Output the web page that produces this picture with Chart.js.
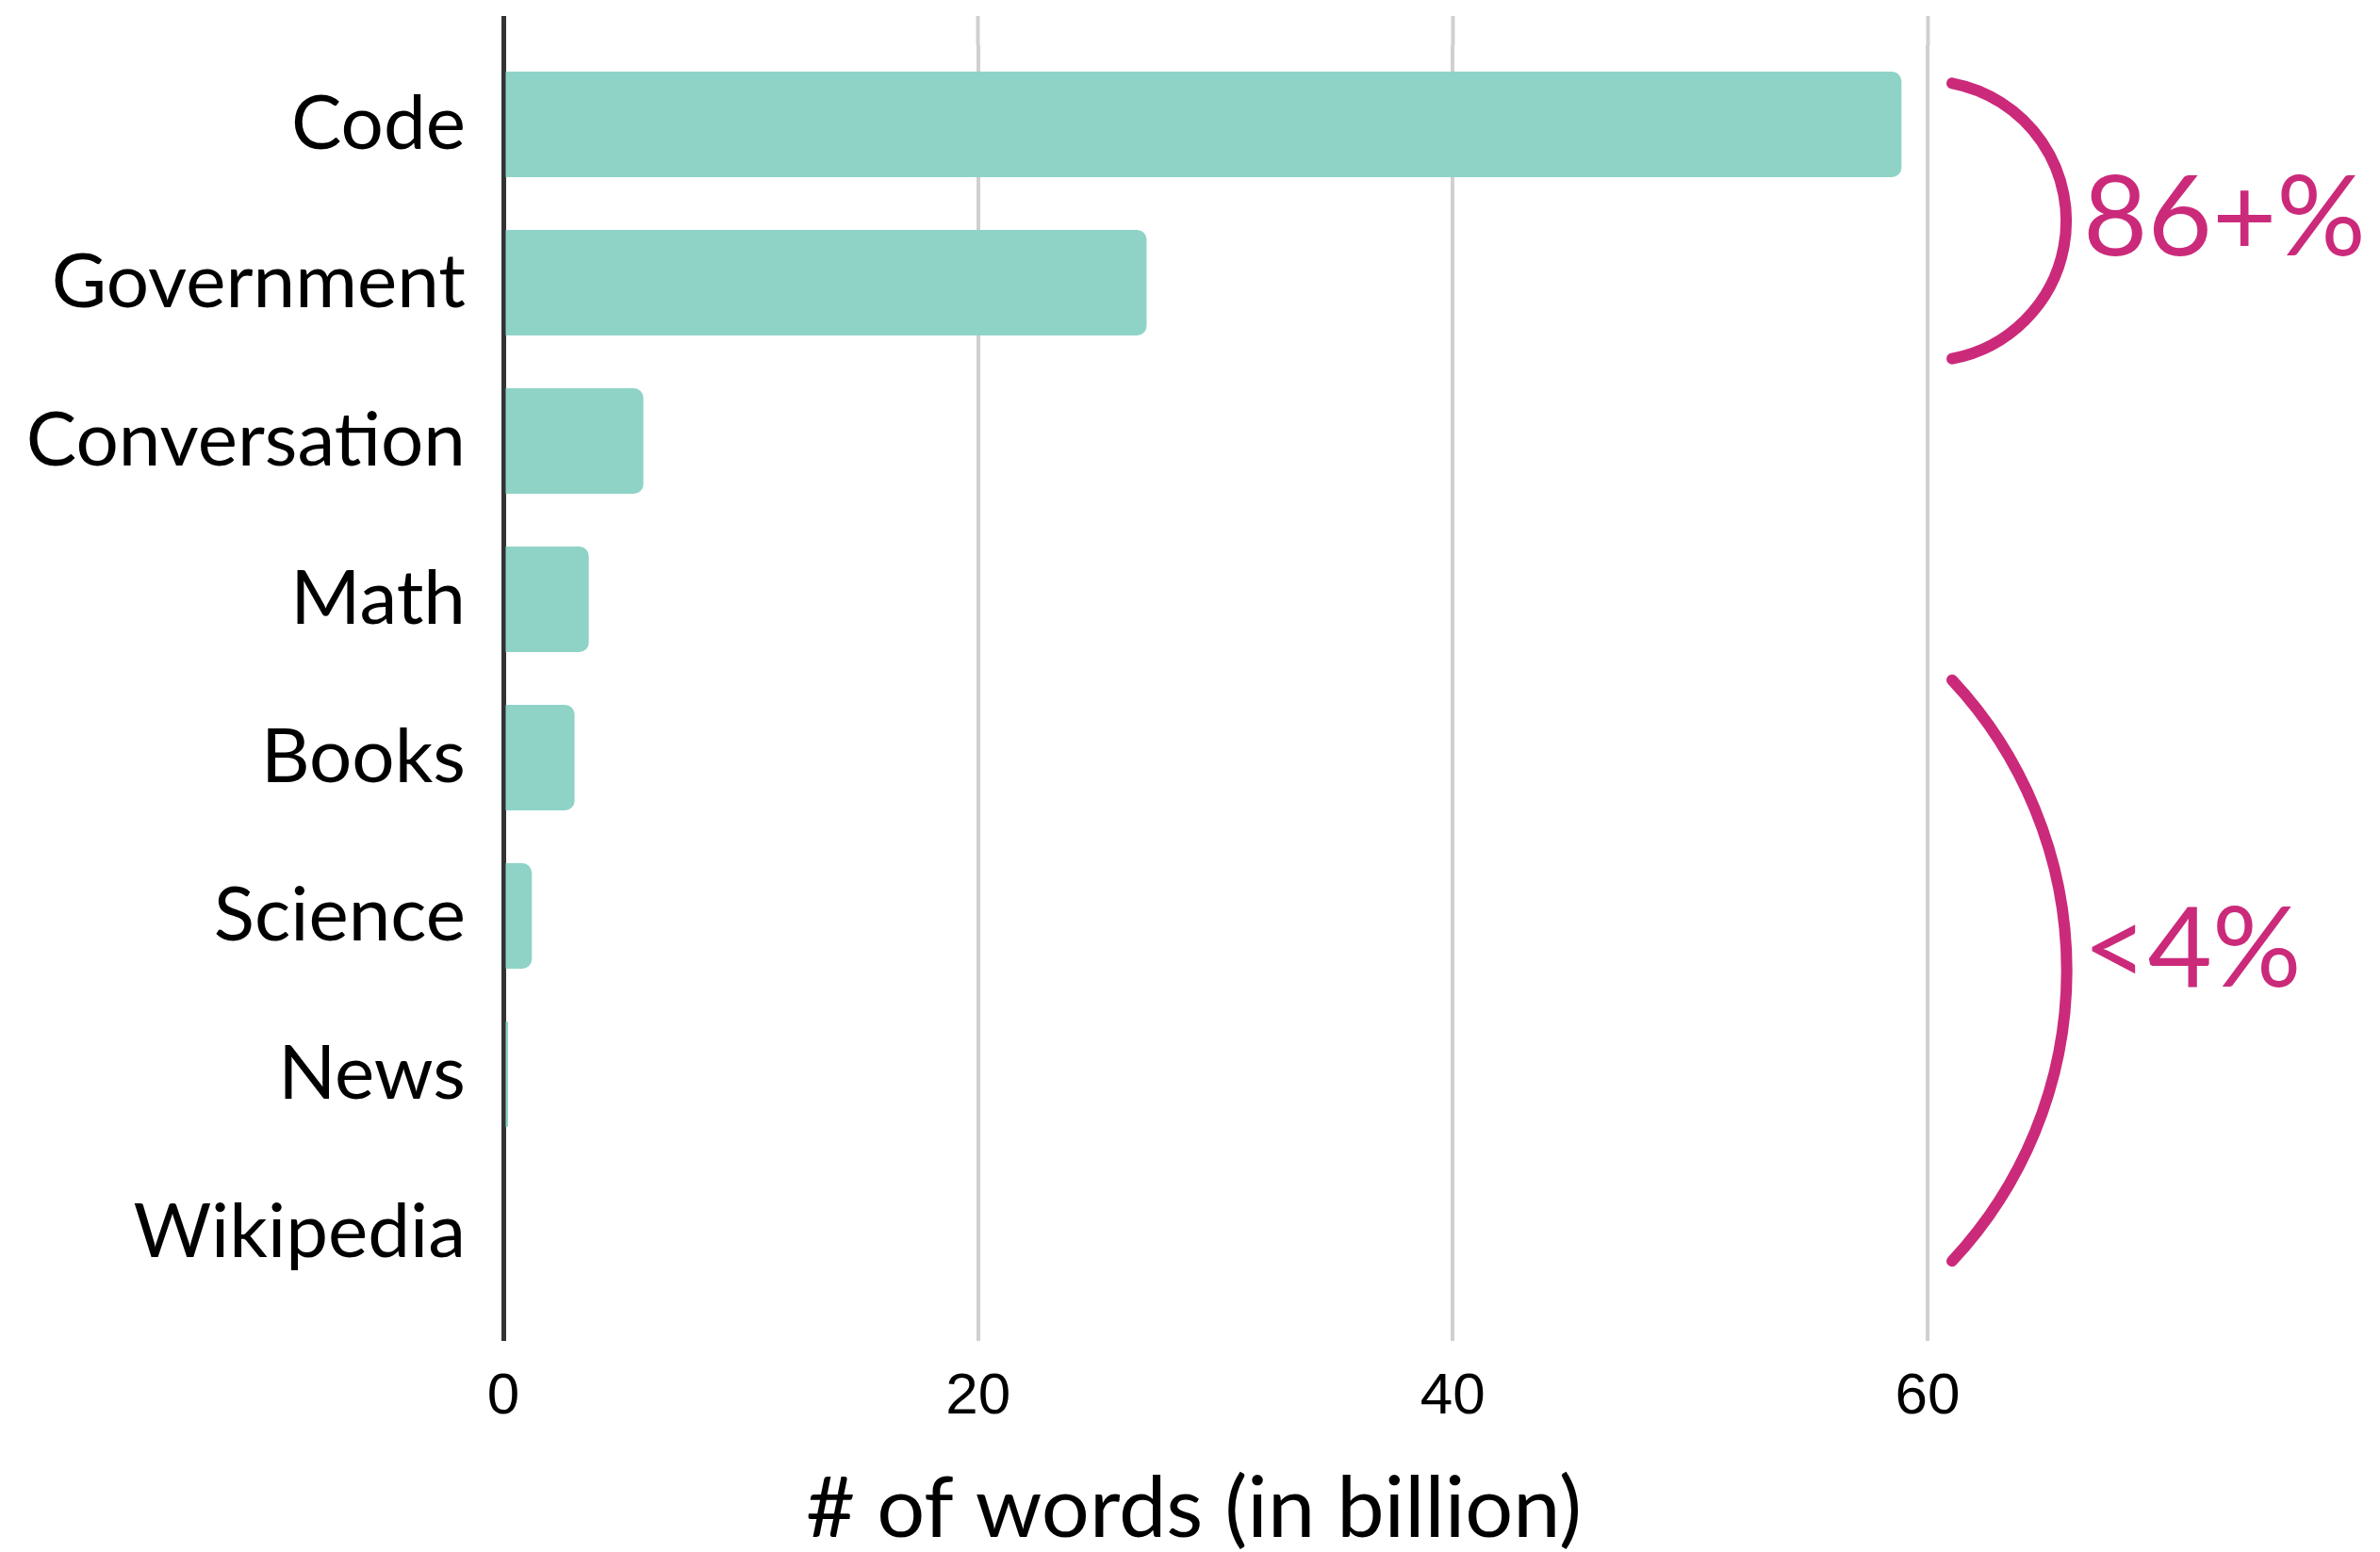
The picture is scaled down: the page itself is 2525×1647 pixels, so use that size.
<!DOCTYPE html>
<html>
<head>
<meta charset="utf-8">
<script src="https://cdn.jsdelivr.net/npm/chart.js@4.4.1/dist/chart.umd.min.js"></script>
<style>
  html, body { margin: 0; padding: 0; background: #ffffff; }
  #wrap { width: 2525px; height: 1647px; position: relative; }
</style>
</head>
<body>
<div id="wrap"><canvas id="wordsChart"></canvas></div>
<script>
// data
const categories = ["Code", "Government", "Conversation", "Math", "Books", "Science", "News", "Wikipedia"];
const wordCounts = [58.9, 27.1, 5.9, 3.6, 3.0, 1.2, 0.2, 0];
const xTicks = [0, 20, 40, 60];
const axisTitle = "# of words (in billion)";

// bracket annotations on the right
const groupLabels = ["86+%", "<4%"];
const groupFirst = ["Code", "Books"];
const groupLast = ["Government", "Wikipedia"];

const BAR_COLOR = "#8fd3c7";
const GRID_COLOR = "#d0d0d0";
const ZERO_COLOR = "#333333";
const PINK = "#cb2a7b";
const LABEL_FONT = "Lato";

// per bracket: how far above first / below last band centre it starts, where it bulges
const bracketStyle = [
  { above: 0.26, below: 0.48, bulgeAt: 0.48 },
  { above: 0.49, below: 0.18, bulgeAt: 0.46 }
];

const bracketPlugin = {
  id: "brackets",
  afterDraw(chart) {
    const ctx = chart.ctx;
    const xs = chart.scales.x;
    const ys = chart.scales.y;
    const band = ys.getPixelForValue(1) - ys.getPixelForValue(0);
    const edgeX = xs.getPixelForValue(xTicks[xTicks.length - 1]);
    for (let i = 0; i < groupLabels.length; i++) {
      const st = bracketStyle[i];
      const top = ys.getPixelForValue(categories.indexOf(groupFirst[i])) - st.above * band;
      const bot = ys.getPixelForValue(categories.indexOf(groupLast[i])) + st.below * band;
      const x0 = edgeX + 26;
      const bx = edgeX + 147;
      const by = top + (bot - top) * st.bulgeAt;
      // circle through the two ends and the bulge
      const ax = x0, ay = top, cx2 = x0, cy2 = bot;
      const d = 2 * (ax * (by - cy2) + bx * (cy2 - ay) + cx2 * (ay - by));
      const ux = ((ax * ax + ay * ay) * (by - cy2) + (bx * bx + by * by) * (cy2 - ay) + (cx2 * cx2 + cy2 * cy2) * (ay - by)) / d;
      const uy = ((ax * ax + ay * ay) * (cx2 - bx) + (bx * bx + by * by) * (ax - cx2) + (cx2 * cx2 + cy2 * cy2) * (bx - ax)) / d;
      const r = Math.hypot(ax - ux, ay - uy);
      const a0 = Math.atan2(ay - uy, ax - ux);
      const a1 = Math.atan2(cy2 - uy, cx2 - ux);
      ctx.save();
      ctx.strokeStyle = PINK;
      ctx.lineWidth = 12;
      ctx.lineCap = "round";
      ctx.beginPath();
      ctx.arc(ux, uy, r, a0, a1, false);
      ctx.stroke();
      ctx.fillStyle = PINK;
      ctx.font = "400 118px " + LABEL_FONT;
      ctx.textAlign = "left";
      ctx.textBaseline = "middle";
      ctx.fillText(groupLabels[i], bx + 18, by + 4);
      ctx.restore();
    }
  }
};

function gridColor(c) {
  return c.tick && c.tick.value === 0 ? ZERO_COLOR : GRID_COLOR;
}
function gridWidth(c) {
  return c.tick && c.tick.value === 0 ? 5 : 4;
}

const canvas = document.getElementById("wordsChart");
const myChart = new Chart(canvas, {
  type: "bar",
  data: {
    labels: categories,
    datasets: [{
      data: wordCounts,
      backgroundColor: BAR_COLOR,
      borderWidth: 0,
      borderRadius: 10,
      categoryPercentage: 1.0,
      barPercentage: 0.667
    }]
  },
  options: {
    indexAxis: "y",
    responsive: true,
    maintainAspectRatio: false,
    animation: false,
    devicePixelRatio: 1,
    layout: { padding: { top: 17, right: 480, bottom: 0, left: 0 } },
    plugins: {
      legend: { display: false },
      tooltip: { enabled: false }
    },
    scales: {
      x: {
        position: "bottom",
        min: 0,
        max: 60,
        afterBuildTicks: (s) => { s.ticks = xTicks.map(v => ({ value: v })); },
        grid: { color: gridColor, lineWidth: gridWidth, drawTicks: true, tickLength: 31, tickColor: gridColor, tickWidth: gridWidth },
        border: { display: false },
        ticks: {
          padding: 23,
          color: "#000",
          font: { family: "Liberation Sans", size: 62 }
        },
        title: {
          display: true,
          // trailing spaces nudge the centred title a little left, like the original
          text: axisTitle + "  ",
          color: "#000",
          padding: 0,
          font: { family: LABEL_FONT, size: 90, lineHeight: 1.0 }
        },
        afterFit: (s) => { s.height = 255; s.paddingLeft = 0; s.paddingRight = 0; }
      },
      xTop: {
        position: "top",
        axis: "x",
        min: 0,
        max: 60,
        afterBuildTicks: (s) => { s.ticks = xTicks.map(v => ({ value: v })); },
        grid: { drawOnChartArea: false, drawTicks: true, tickLength: 31, tickColor: gridColor, tickWidth: gridWidth, color: gridColor },
        border: { display: false },
        ticks: { display: false },
        afterFit: (s) => { s.height = 31; s.paddingLeft = 0; s.paddingRight = 0; }
      },
      y: {
        position: "left",
        grid: { display: false },
        border: { display: false },
        ticks: {
          padding: 32,
          color: "#000",
          font: { family: LABEL_FONT, size: 80 }
        },
        afterFit: (s) => { s.width = 534; s.paddingTop = 0; s.paddingBottom = 0; }
      }
    }
  },
  plugins: [bracketPlugin]
});
</script>
</body>
</html>
